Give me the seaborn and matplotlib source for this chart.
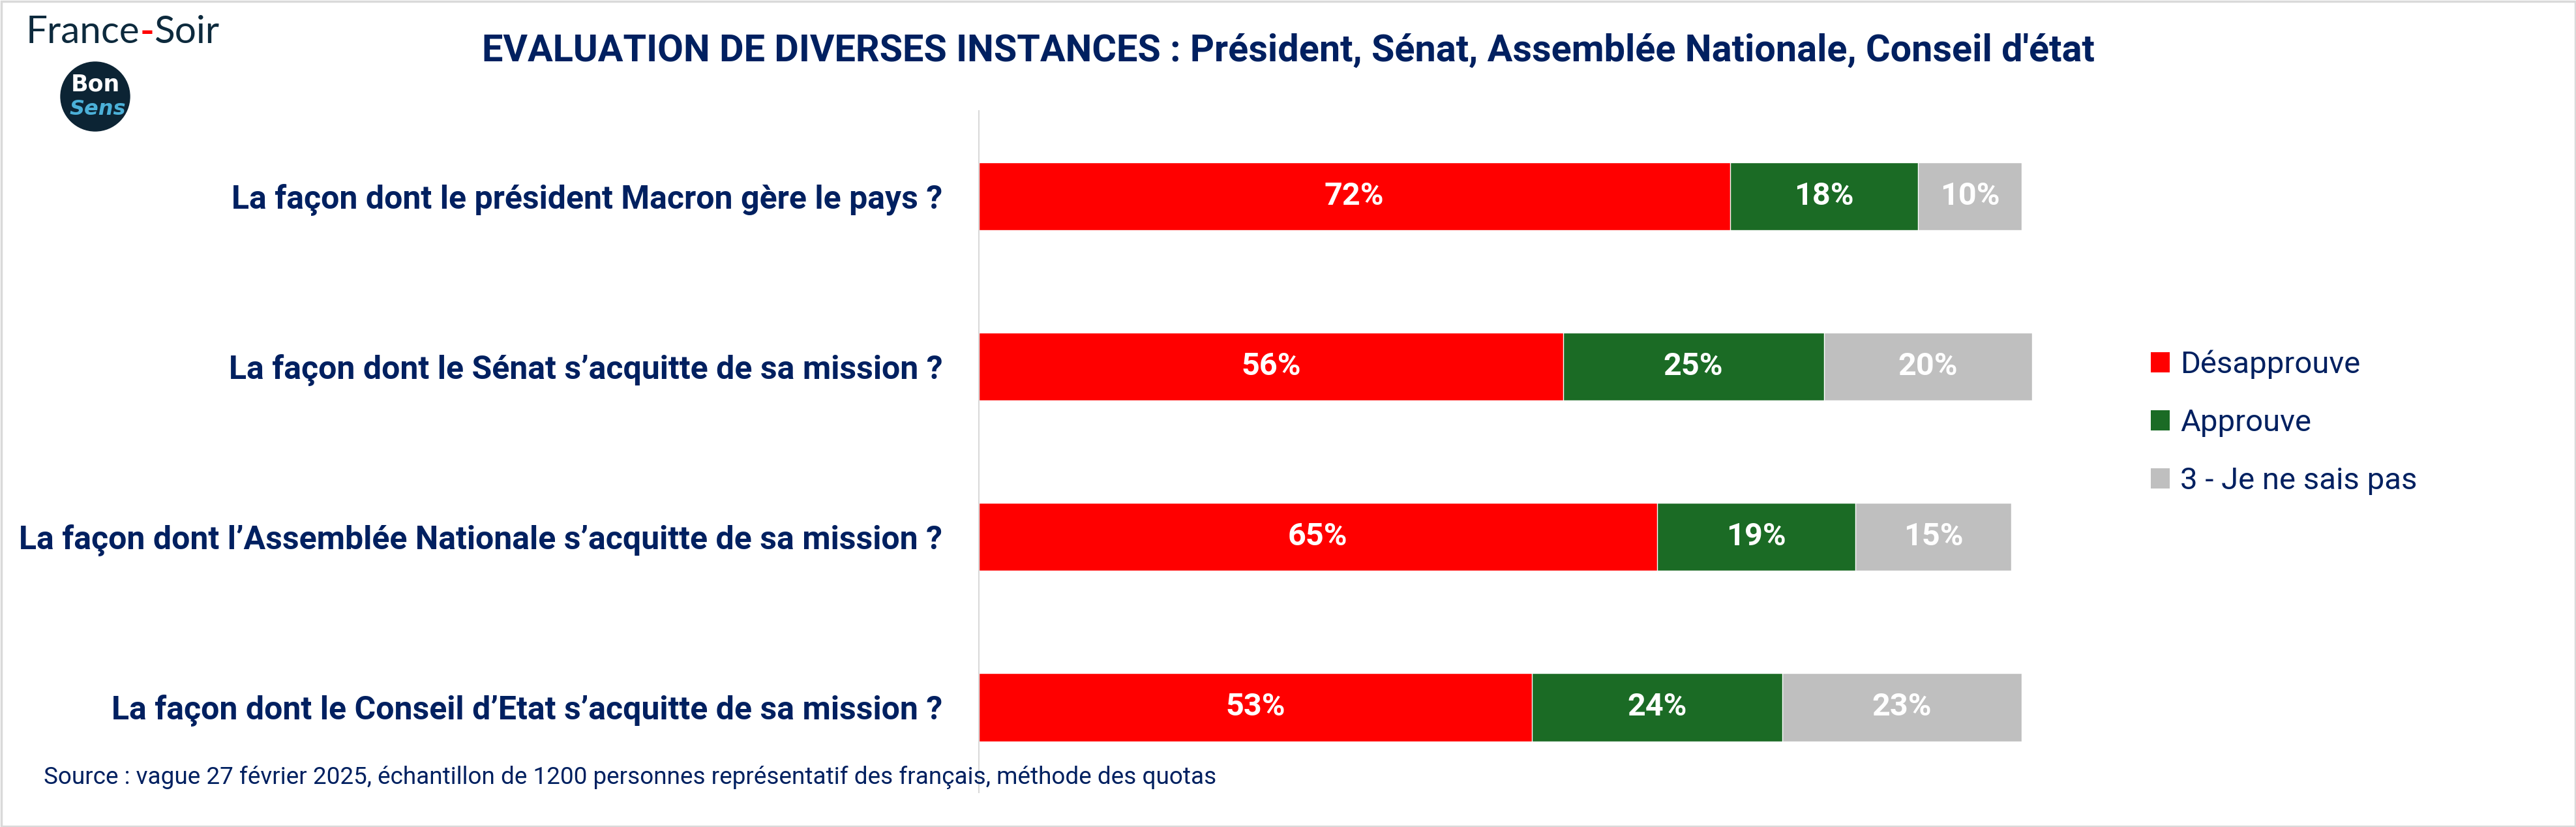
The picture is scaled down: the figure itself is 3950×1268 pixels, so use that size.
import pandas as pd
import seaborn as sns
import matplotlib.pyplot as plt
from matplotlib.patches import Rectangle, Circle, Patch

# data
questions = [
    "La façon dont le président Macron gère le pays ?",
    "La façon dont le Sénat s\u2019acquitte de sa mission ?",
    "La façon dont l\u2019Assemblée Nationale s\u2019acquitte de sa mission ?",
    "La façon dont le Conseil d\u2019Etat s\u2019acquitte de sa mission ?",
]
desapprouve = [72, 56, 65, 53]
approuve = [18, 25, 19, 24]
ne_sais_pas = [10, 20, 15, 23]
series_names = ["Désapprouve", "Approuve", "3 - Je ne sais pas"]
series_colors = ["#FF0000", "#1B6B25", "#BFBFBF"]

title = "EVALUATION DE DIVERSES INSTANCES : Président, Sénat, Assemblée Nationale, Conseil d'état"
source = ("Source : vague 27 février 2025, échantillon de 1200 personnes représentatif "
          "des français, méthode des quotas")
navy = "#002060"

df = pd.DataFrame({"question": questions, "d": desapprouve,
                   "a": approuve, "n": ne_sais_pas})
df["da"] = df["d"] + df["a"]
df["total"] = df["da"] + df["n"]

sns.set_theme(style="white")
plt.rcParams["font.family"] = ["Roboto", "DejaVu Sans"]

fig = plt.figure(figsize=(39.5, 12.68), dpi=100)
ax = fig.add_axes([0.380, 0.0418, 0.411, 0.824])

# stacked bars: draw cumulative totals back to front
sns.barplot(data=df, x="total", y="question", color=series_colors[2], width=0.4,
            orient="h", ax=ax, saturation=1)
sns.barplot(data=df, x="da", y="question", color=series_colors[1], width=0.4,
            orient="h", ax=ax, saturation=1)
sns.barplot(data=df, x="d", y="question", color=series_colors[0], width=0.4,
            orient="h", ax=ax, saturation=1)

for i, row in df.iterrows():
    starts = [0, row["d"], row["da"]]
    for s, v in zip(starts, [row["d"], row["a"], row["n"]]):
        ax.text(s + v / 2, i, f"{v}%", ha="center", va="center", color="white",
                fontsize=35, fontweight="bold")

ax.set_xlim(0, 101.5)
ax.set_ylim(3.5, -0.5)
ax.set_xlabel("")
ax.set_ylabel("")
ax.set_xticks([])
ax.tick_params(axis="y", length=0, pad=40)
for lab in ax.get_yticklabels():
    lab.set_fontsize(36)
    lab.set_fontweight("bold")
    lab.set_color(navy)
for s in ["top", "right", "bottom"]:
    ax.spines[s].set_visible(False)
ax.spines["left"].set_color("#D9D9D9")
ax.spines["left"].set_linewidth(1.5)

handles = [Patch(facecolor=c, edgecolor="none") for c in series_colors]
leg = fig.legend(handles, series_names, loc="center left",
                 bbox_to_anchor=(3274 / 3950, 1 - 648 / 1268), frameon=False,
                 fontsize=34, handlelength=0.62, handleheight=0.62,
                 handletextpad=0.35, labelspacing=0.95, borderpad=0)
for t in leg.get_texts():
    t.set_color(navy)

fig.text(0.5, 1 - 78 / 1268, title, ha="center", va="center", fontsize=41.5,
         fontweight="bold", color=navy)
fig.text(67 / 3950, 1 - 1192 / 1268, source, ha="left", va="center", fontsize=26.6,
         color=navy)

# logos
logo_ax = fig.add_axes([0, 0, 1, 1], zorder=-1)
logo_ax.set_xlim(0, 3950)
logo_ax.set_ylim(1268, 0)
logo_ax.axis("off")

renderer = fig.canvas.get_renderer()
x = 40
for part, col in [("France", "#0D2A3D"), ("-", "#FF0000"), ("Soir", "#0D2A3D")]:
    t = logo_ax.text(x, 50, part, ha="left", va="center", fontsize=42,
                     color=col, family="Lato",
                     fontweight="bold" if part == "-" else "normal")
    bb = t.get_window_extent(renderer)
    x += bb.width

logo_ax.add_patch(Circle((146, 148), 53, color="#0C2434"))
logo_ax.text(146, 130, "Bon", ha="center", va="center", fontsize=25,
             fontweight="bold", color="white", family="DejaVu Sans")
logo_ax.text(150, 168, "Sens", ha="center", va="center", fontsize=23,
             fontstyle="italic", fontweight="bold", color="#4BB0D8", family="DejaVu Sans")
logo_ax.add_patch(Rectangle((1.5, 1.5), 3947, 1265, fill=False,
                            edgecolor="#D9D9D9", linewidth=2.5))

fig.savefig("out.png", dpi=100)
